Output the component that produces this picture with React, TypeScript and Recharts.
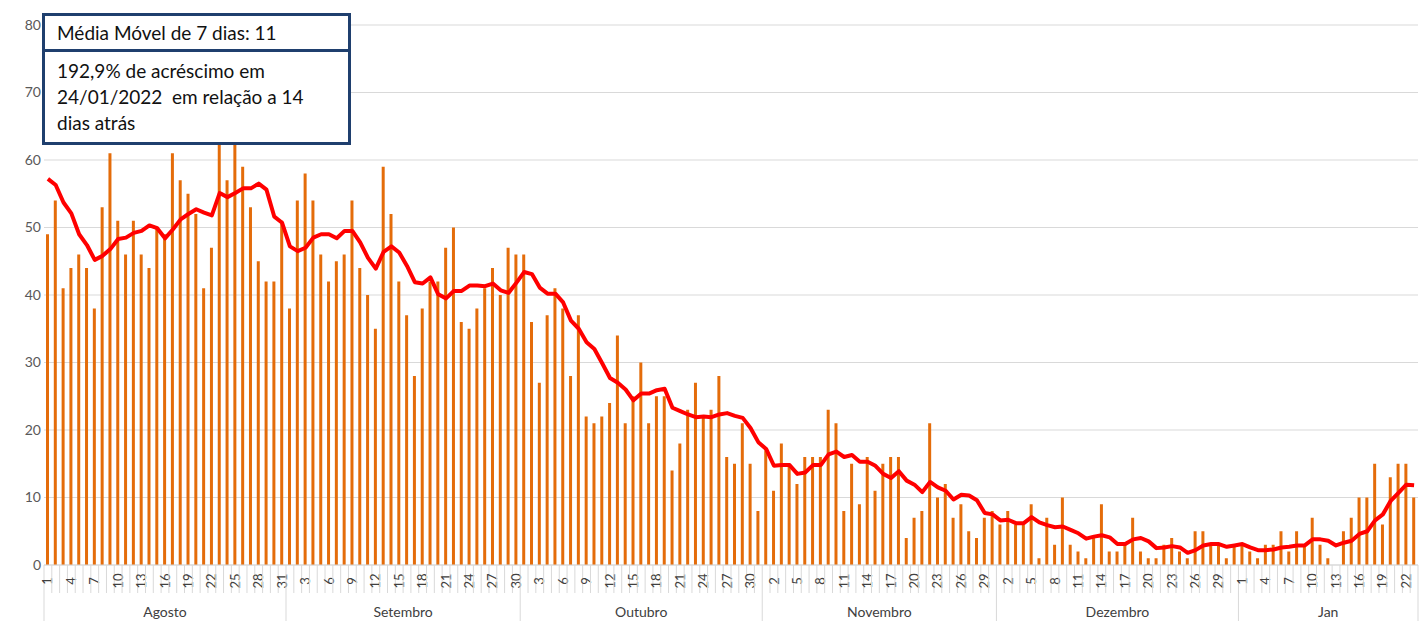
import React from 'react';
import { ComposedChart, Bar, Line, XAxis, YAxis, CartesianGrid } from 'recharts';

// casos diários por mês (ago/2021 a jan/2022)
const agosto = [49, 54, 41, 44, 46, 44, 38, 53, 61, 51, 46, 51, 46, 44, 50, 49, 61, 57, 55, 52, 41, 47, 64, 57, 64, 59, 53, 45, 42, 42, 51];
const setembro = [38, 54, 58, 54, 46, 42, 45, 46, 54, 44, 40, 35, 59, 52, 42, 37, 28, 38, 42, 42, 47, 50, 36, 35, 38, 41, 44, 40, 47, 46];
const outubro = [46, 36, 27, 37, 41, 38, 28, 37, 22, 21, 22, 24, 34, 21, 25, 30, 21, 25, 25, 14, 18, 23, 27, 22, 23, 28, 16, 15, 21, 15, 8];
const novembro = [17, 11, 18, 15, 12, 16, 16, 16, 23, 21, 8, 15, 9, 16, 11, 15, 16, 16, 4, 7, 8, 21, 10, 12, 7, 9, 5, 4, 7, 8];
const dezembro = [6, 8, 6, 6, 9, 1, 7, 3, 10, 3, 2, 1, 4, 9, 2, 2, 3, 7, 2, 1, 1, 3, 4, 2, 1, 5, 5, 3, 3, 1, 3];
const janeiro = [3, 2, 1, 3, 3, 5, 2, 5, 3, 7, 3, 1, 0, 5, 7, 10, 10, 15, 6, 13, 15, 15, 10];

// média móvel de 7 dias
const mmAgosto = [57.2, 56.3, 53.7, 52.1, 49, 47.4, 45.2, 45.8, 46.8, 48.3, 48.5, 49.2, 49.5, 50.3, 49.9, 48.4, 49.7, 51.2, 52, 52.7, 52.2, 51.8, 55.1, 54.5, 55.1, 55.8, 55.8, 56.5, 55.6, 51.6, 50.7];
const mmSetembro = [47.2, 46.5, 47, 48.5, 49, 49, 48.4, 49.5, 49.5, 47.8, 45.5, 43.9, 46.4, 47.2, 46.3, 44.3, 41.9, 41.7, 42.6, 40.1, 39.5, 40.6, 40.6, 41.4, 41.4, 41.3, 41.7, 40.7, 40.3, 41.8];
const mmOutubro = [43.4, 43.1, 41.1, 40.2, 40.2, 38.9, 36.2, 35, 33, 32, 29.9, 27.7, 27, 26, 24.4, 25.4, 25.4, 25.9, 26.1, 23.3, 22.8, 22.3, 21.9, 22, 21.9, 22.3, 22.5, 22.1, 21.8, 20.3, 18.2];
const mmNovembro = [17.2, 14.7, 14.8, 14.8, 13.5, 13.7, 14.8, 14.8, 16.4, 16.8, 16, 16.3, 15.3, 15.3, 14.7, 13.5, 12.9, 13.9, 12.5, 11.9, 10.8, 12.3, 11.5, 11, 9.7, 10.4, 10.3, 9.6, 7.7, 7.5];
const mmDezembro = [6.6, 6.7, 6.2, 6.2, 7.1, 6.3, 5.9, 5.6, 5.7, 5.2, 4.7, 3.9, 4.2, 4.4, 4.1, 3.1, 3.1, 3.8, 4, 3.5, 2.5, 2.6, 2.8, 2.6, 1.8, 2.2, 2.9, 3.1, 3.1, 2.7, 2.9];
const mmJaneiro = [3.1, 2.6, 2.2, 2.2, 2.3, 2.6, 2.7, 2.9, 2.9, 3.8, 3.8, 3.6, 2.9, 3.3, 3.6, 4.6, 5, 6.6, 7.5, 9.5, 10.7, 11.9, 11.8];

const meses = ['Agosto', 'Setembro', 'Outubro', 'Novembro', 'Dezembro', 'Jan'];
const casosPorMes = [agosto, setembro, outubro, novembro, dezembro, janeiro];
const mmPorMes = [mmAgosto, mmSetembro, mmOutubro, mmNovembro, mmDezembro, mmJaneiro];
const yTicks = [0, 10, 20, 30, 40, 50, 60, 70, 80];

const data: { id: number; dia: number; mes: string; diasMes: number; casos: number; media: number }[] = [];
casosPorMes.forEach((arr, m) => {
  arr.forEach((v, d) => {
    data.push({ id: data.length, dia: d + 1, mes: meses[m], diasMes: arr.length, casos: v, media: mmPorMes[m][d] });
  });
});

const W = 1419;
const H = 621;
const LEFT = 44;
const RIGHT = 1;
const BAND = (W - LEFT - RIGHT) / data.length;
const GRAY = '#d9d9d9';
const BLUE = '#1F3F6E';

const DayTick = (props: any) => {
  const { x, y, payload } = props;
  const i = payload.value as number;
  const d = data[i];
  if (!d) return null;
  const left = x - BAND / 2;
  const first = d.dia === 1;
  return (
    <g>
      <line x1={left} x2={left} y1={y} y2={y + (first ? 56 : 28)} stroke={GRAY} strokeWidth={1} />
      {i === data.length - 1 && (
        <line x1={x + BAND / 2} x2={x + BAND / 2} y1={y} y2={y + 56} stroke={GRAY} strokeWidth={1} />
      )}
      {i % 3 === 0 && (
        <text
          transform={`translate(${x},${y + 16}) rotate(-90)`}
          textAnchor="middle"
          dy="0.35em"
          fontSize={13}
          fill="#404040"
        >
          {d.dia}
        </text>
      )}
      {first && (
        <text x={left + (d.diasMes * BAND) / 2} y={y + 52} textAnchor="middle" fontSize={14} fill="#404040">
          {d.mes}
        </text>
      )}
    </g>
  );
};

const boxText: React.CSSProperties = { fontSize: 19, color: '#111', lineHeight: '26px' };

export default function App() {
  return (
    <div style={{ position: 'absolute', left: 0, top: 0, width: W, height: H, background: '#fff', fontFamily: 'Lato, "Open Sans", sans-serif' }}>
      <ComposedChart width={W} height={H} data={data} margin={{ top: 25, right: RIGHT, left: 0, bottom: 0 }}>
        <CartesianGrid vertical={false} stroke={GRAY} />
        <XAxis
          dataKey="id"
          interval={0}
          height={56}
          tickLine={false}
          tickSize={0}
          tickMargin={0}
          axisLine={{ stroke: GRAY }}
          tick={<DayTick />}
        />
        <YAxis
          width={LEFT}
          domain={[0, 80]}
          ticks={yTicks}
          axisLine={false}
          tickLine={false}
          tickSize={0}
          tickMargin={3}
          tick={{ fill: '#595959', fontSize: 14 }}
        />
        <Bar dataKey="casos" fill="#E46C0A" barSize={3} isAnimationActive={false} />
        <Line
          type="linear"
          dataKey="media"
          stroke="#FF0000"
          strokeWidth={4}
          dot={false}
          strokeLinejoin="round"
          isAnimationActive={false}
        />
      </ComposedChart>
      <div style={{ position: 'absolute', left: 42, top: 13, width: 303, border: `3px solid ${BLUE}`, background: '#fff' }}>
        <div style={{ ...boxText, padding: '4px 12px 3px', borderBottom: `3px solid ${BLUE}` }}>Média Móvel de 7 dias: 11</div>
        <div style={{ ...boxText, padding: '6px 12px 6px' }}>
          192,9% de acréscimo em
          <br />
          24/01/2022&nbsp; em relação a 14
          <br />
          dias atrás
        </div>
      </div>
    </div>
  );
}
